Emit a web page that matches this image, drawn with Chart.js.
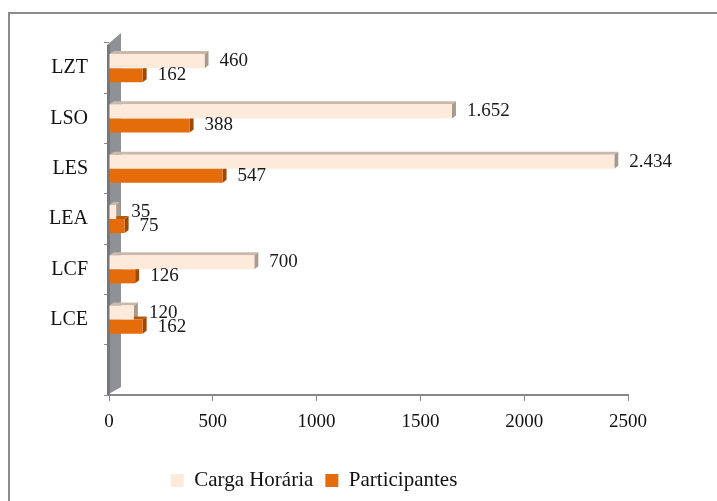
<!DOCTYPE html>
<html lang="pt">

<head>
    <meta charset="UTF-8">
    <title>Carga Horária e Participantes</title>
    <style>
        html, body { margin: 0; padding: 0; background: #fff; }
        #wrap { width: 717px; height: 501px; }
    </style>
</head>

<body>

<div id="wrap">
    <canvas id="cursosChart" width="717" height="501"></canvas>
</div>

<script src="https://cdn.jsdelivr.net/npm/chart.js"></script>

<script>
    // Dados do gráfico
    const cursos = ['LZT', 'LSO', 'LES', 'LEA', 'LCF', 'LCE', ''];
    const cargaHoraria = [460, 1652, 2434, 35, 700, 120, null];
    const participantes = [162, 388, 547, 75, 126, 162, null];
    const xTicks = [0, 500, 1000, 1500, 2000, 2500];

    const fonte = 'Liberation Serif';
    const corCarga = '#FDEADA';
    const corPart = '#E46C0A';

    // faces 3D: topo e lateral de cada barra
    const sombras = [
        { topo: '#C9B9AC', lado: '#A99A8E' },
        { topo: '#B8590A', lado: '#9E4806' }
    ];

    function formatar(v) {
        return String(v).replace(/\B(?=(\d{3})+(?!\d))/g, '.');
    }

    // moldura, parede cinza e profundidade das barras
    const efeito3d = {
        id: 'efeito3d',
        beforeDraw(chart) {
            const ctx = chart.ctx;
            ctx.save();
            ctx.strokeStyle = '#8C8C8C';
            ctx.lineWidth = 2;
            ctx.strokeRect(9, 13, 800, 600);
            ctx.restore();
        },
        beforeDatasetsDraw(chart) {
            const ctx = chart.ctx;
            const a = chart.chartArea;
            ctx.save();
            // parede lateral
            ctx.fillStyle = '#8E9196';
            ctx.beginPath();
            ctx.moveTo(a.left - 2, a.top + 2);
            ctx.lineTo(a.left + 12, a.top - 10);
            ctx.lineTo(a.left + 12, a.bottom - 8);
            ctx.lineTo(a.left - 2, a.bottom);
            ctx.closePath();
            ctx.fill();
            ctx.fillStyle = '#74777B';
            ctx.fillRect(a.left - 2, a.top + 2, 3, a.bottom - a.top - 2);

            const dx = 4, dy = 3;
            chart.data.datasets.forEach((ds, i) => {
                const meta = chart.getDatasetMeta(i);
                meta.data.forEach((bar, j) => {
                    if (ds.data[j] == null) return;
                    const p = bar.getProps(['x', 'y', 'base', 'height'], true);
                    const l = p.base, r = p.x;
                    const t = p.y - p.height / 2, b = p.y + p.height / 2;
                    ctx.fillStyle = sombras[i].topo;
                    ctx.beginPath();
                    ctx.moveTo(l, t);
                    ctx.lineTo(l + dx, t - dy);
                    ctx.lineTo(r + dx, t - dy);
                    ctx.lineTo(r, t);
                    ctx.closePath();
                    ctx.fill();
                    ctx.fillStyle = sombras[i].lado;
                    ctx.beginPath();
                    ctx.moveTo(r, t);
                    ctx.lineTo(r + dx, t - dy);
                    ctx.lineTo(r + dx, b - dy);
                    ctx.lineTo(r, b);
                    ctx.closePath();
                    ctx.fill();
                });
            });
            ctx.restore();
        },
        afterDatasetsDraw(chart) {
            const ctx = chart.ctx;
            ctx.save();
            ctx.font = '19px "' + fonte + '"';
            ctx.fillStyle = '#1a1a1a';
            ctx.textBaseline = 'middle';
            ctx.textAlign = 'left';
            chart.data.datasets.forEach((ds, i) => {
                const meta = chart.getDatasetMeta(i);
                meta.data.forEach((bar, j) => {
                    const v = ds.data[j];
                    if (v == null) return;
                    ctx.fillText(formatar(v), bar.x + 15, bar.y);
                });
            });
            ctx.restore();
        }
    };

    const ctx1 = document.getElementById('cursosChart').getContext('2d');
    new Chart(ctx1, {
        type: 'bar',
        data: {
            labels: cursos,
            datasets: [{
                label: 'Carga Horária',
                data: cargaHoraria,
                backgroundColor: corCarga,
                borderWidth: 0
            }, {
                label: 'Participantes',
                data: participantes,
                backgroundColor: corPart,
                borderWidth: 0
            }]
        },
        options: {
            indexAxis: 'y',
            responsive: false,
            animation: false,
            categoryPercentage: 0.56,
            barPercentage: 1.0,
            layout: {
                padding: { top: 43, right: 89, bottom: 0, left: 0 }
            },
            scales: {
                x: {
                    min: 0,
                    max: 2500,
                    afterBuildTicks(scale) {
                        scale.ticks = xTicks.map(v => ({ value: v }));
                    },
                    afterFit(scale) {
                        scale.height = 63;
                    },
                    grid: {
                        drawOnChartArea: false,
                        color: '#888',
                        tickLength: 6
                    },
                    border: { display: true, color: '#888', width: 2 },
                    ticks: {
                        padding: 10,
                        color: '#111',
                        font: { family: fonte, size: 19 },
                        callback: v => String(v)
                    }
                },
                y: {
                    afterFit(scale) {
                        scale.width = 109;
                    },
                    grid: {
                        drawOnChartArea: false,
                        color: '#888',
                        tickLength: 5
                    },
                    border: { display: false },
                    ticks: {
                        padding: 16,
                        color: '#111',
                        font: { family: fonte, size: 20 }
                    }
                }
            },
            plugins: {
                tooltip: { enabled: false },
                legend: {
                    position: 'bottom',
                    labels: {
                        boxWidth: 13,
                        boxHeight: 13,
                        padding: 12,
                        color: '#111',
                        font: { family: fonte, size: 21 }
                    }
                }
            }
        },
        plugins: [efeito3d]
    });
</script>

</body>

</html>
